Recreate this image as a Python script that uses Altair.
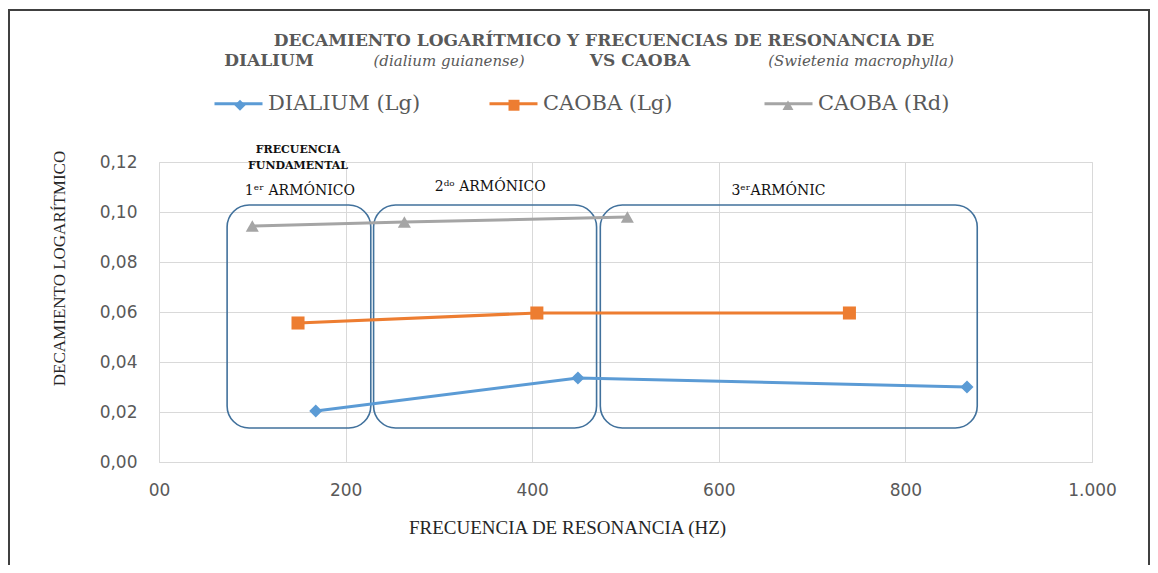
import altair as alt
import pandas as pd

# ---------------- data ----------------
series = ["DIALIUM (Lg)", "CAOBA (Lg)", "CAOBA (Rd)"]
colors = ["#5B9BD5", "#ED7D31", "#A5A5A5"]
shapes = ["diamond", "square", "triangle-up"]

dialium_hz = [168, 449, 866]
dialium_dec = [0.0204, 0.0336, 0.0300]
caoba_lg_hz = [149, 405, 740]
caoba_lg_dec = [0.0556, 0.0596, 0.0596]
caoba_rd_hz = [100, 263, 502]
caoba_rd_dec = [0.0944, 0.0960, 0.0980]

box_start = [73, 230, 473]
box_end = [227, 469, 877]
box_low = [0.0136, 0.0136, 0.0136]
box_high = [0.1028, 0.1028, 0.1028]

note_labels = ["1ᵉʳ ARMÓNICO", "2ᵈᵒ ARMÓNICO", "3ᵉʳARMÓNIC"]
note_hz = [151, 355, 664]
note_dec = [0.1084, 0.1100, 0.1084]

fund_labels = ["FRECUENCIA", "FUNDAMENTAL"]
fund_hz = [149, 149]
fund_dec = [0.1248, 0.1184]

title_line1 = "DECAMIENTO LOGARÍTMICO Y FRECUENCIAS DE RESONANCIA DE"
title_parts = ["DIALIUM", "(dialium guianense)", "VS CAOBA", "(Swietenia macrophylla)"]

x_ticks = [0, 200, 400, 600, 800, 1000]
y_ticks = [0, 0.02, 0.04, 0.06, 0.08, 0.10, 0.12]

# ---------------- tables ----------------
rows = []
for name, xs, ys in zip(series, [dialium_hz, caoba_lg_hz, caoba_rd_hz],
                        [dialium_dec, caoba_lg_dec, caoba_rd_dec]):
    for i, (xv, yv) in enumerate(zip(xs, ys)):
        rows.append({"serie": name, "marca": name, "orden": i, "hz": xv, "dec": yv})
df = pd.DataFrame(rows)

boxes = pd.DataFrame({"x0": box_start, "x1": box_end, "y0": box_low, "y1": box_high})
notes = pd.DataFrame({"t": note_labels, "hz": note_hz, "dec": note_dec})
fund = pd.DataFrame({"t": fund_labels, "hz": fund_hz, "dec": fund_dec})

W, H = 933, 300

xscale = alt.Scale(domain=[0, 1000], nice=False)
yscale = alt.Scale(domain=[0, 0.12], nice=False)

x_axis = alt.Axis(
    values=x_ticks, title="FRECUENCIA DE RESONANCIA (HZ)",
    labelExpr="datum.value == 0 ? '00' : replace(format(datum.value, ','), ',', '.')",
    grid=True, gridColor="#D9D9D9", ticks=False, tickSize=0, labelFlush=False,
    domain=True, domainColor="#D9D9D9",
    labelFont="DejaVu Sans", labelFontSize=17, labelColor="#595959", labelPadding=20,
    titleFont="Liberation Serif", titleFontSize=19, titleFontWeight="normal",
    titleColor="#262626", titleX=408, titleY=56,
)
y_axis = alt.Axis(
    values=y_ticks, title="DECAMIENTO LOGARÍTMICO",
    labelExpr="replace(format(datum.value, '.2f'), '.', ',')",
    grid=True, gridColor="#D9D9D9", ticks=False, tickSize=0, domain=False,
    labelFont="DejaVu Sans", labelFontSize=17, labelColor="#595959", labelPadding=22,
    titleFont="Liberation Serif", titleFontSize=17, titleFontWeight="normal",
    titleColor="#262626", titleX=-91, titleY=106,
)

X = alt.X("hz:Q", scale=xscale, axis=x_axis)
Y = alt.Y("dec:Q", scale=yscale, axis=y_axis)

legend_common = dict(
    orient="none", direction="horizontal", columns=3, title=None,
    labelFont="DejaVu Serif", labelFontSize=21, labelColor="#595959",
    labelLimit=500, gridAlign="all",
)

lines = alt.Chart(df).mark_line(strokeWidth=3).encode(
    x=X, y=Y, order="orden:Q",
    color=alt.Color("serie:N", scale=alt.Scale(domain=series, range=colors),
                    legend=alt.Legend(legendX=54, legendY=-84, symbolType="stroke",
                                      symbolSize=2304, symbolStrokeWidth=3,
                                      labelOffset=4, columnPadding=62, **legend_common)),
)

marker_legend = alt.Legend(legendX=54, legendY=-67.5, symbolSize=120, symbolStrokeWidth=0,
                           symbolOffset=16.5, labelOffset=0, labelExpr="''",
                           columnPadding=236, symbolOpacity=1, **legend_common)
points = alt.Chart(df).mark_point(filled=True, size=170, opacity=1, strokeWidth=0).encode(
    x="hz:Q", y="dec:Q",
    fill=alt.Fill("marca:N", scale=alt.Scale(domain=series, range=colors), legend=marker_legend),
    shape=alt.Shape("marca:N", scale=alt.Scale(domain=series, range=shapes), legend=marker_legend),
)

rects = alt.Chart(boxes).mark_rect(fillOpacity=0, stroke="#41719C", strokeWidth=1.6,
                                   cornerRadius=22).encode(
    x="x0:Q", x2="x1:Q", y="y0:Q", y2="y1:Q")

note_marks = alt.Chart(notes).mark_text(font="DejaVu Serif", fontSize=14, color="#111111",
                                        baseline="middle").encode(
    x="hz:Q", y="dec:Q", text="t:N")
fund_marks = alt.Chart(fund).mark_text(font="DejaVu Serif", fontSize=11, fontWeight="bold",
                                       color="#111111", baseline="middle").encode(
    x="hz:Q", y="dec:Q", text="t:N")

def title_text(text, xpos, ypos, size, style="normal", weight="bold", color="#595959"):
    return alt.Chart(pd.DataFrame({"t": [text]})).mark_text(
        font="DejaVu Serif", fontSize=size, fontStyle=style, fontWeight=weight,
        color=color, baseline="middle", align="center").encode(
        text="t:N", x=alt.value(xpos), y=alt.value(ypos))

t1 = title_text(title_line1, 445, -121, 17)
t2a = title_text(title_parts[0], 110, -101, 17)
t2b = title_text(title_parts[1], 290, -101, 15, style="italic", weight="normal")
t2c = title_text(title_parts[2], 481, -101, 17)
t2d = title_text(title_parts[3], 702, -101, 15, style="italic", weight="normal")

frame = alt.Chart(pd.DataFrame({"a": [0]})).mark_rect(
    fillOpacity=0, stroke="#404040", strokeWidth=2).encode(
    x=alt.value(-150), x2=alt.value(990), y=alt.value(-152), y2=alt.value(420))

chart = alt.layer(
    frame, rects, lines, points, note_marks, fund_marks, t1, t2a, t2b, t2c, t2d
).resolve_scale(
    color="independent", fill="independent", shape="independent"
).properties(
    width=W, height=H,
    autosize=alt.AutoSizeParams(type="none"),
    padding={"left": 151, "top": 154, "right": 58, "bottom": 103},
).configure_view(stroke=None).configure(background="white")

chart.save("out.html", embed_options={"renderer": "svg", "actions": False})
